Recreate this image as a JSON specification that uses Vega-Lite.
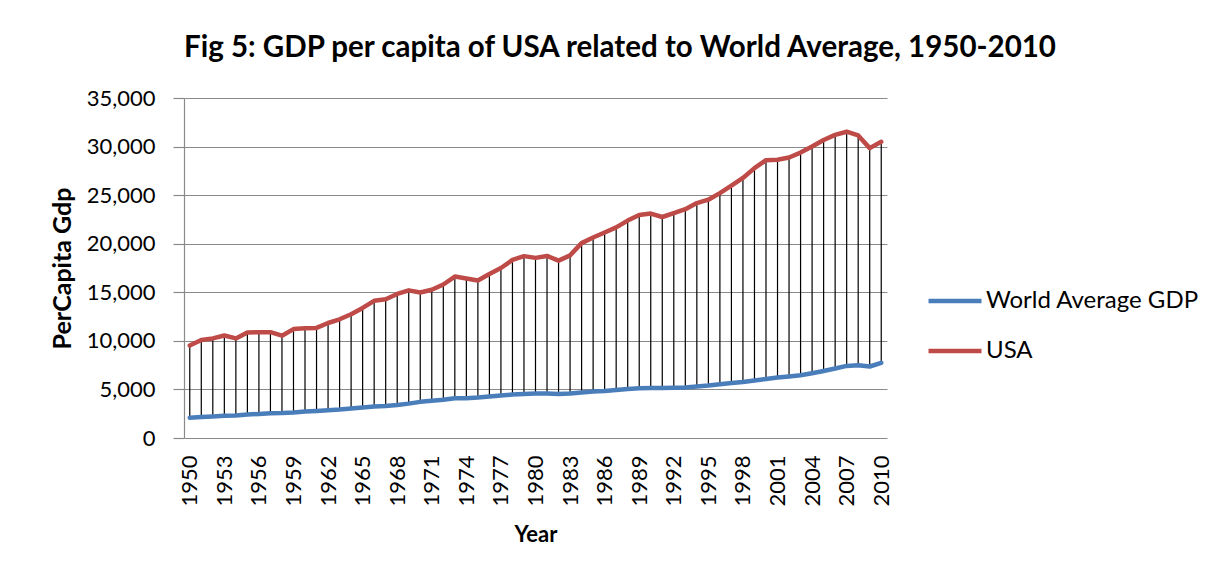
{
  "$schema": "https://vega.github.io/schema/vega-lite/v6.json",
  "width": 703,
  "height": 340,
  "autosize": {"type": "none"},
  "padding": {"left": 184, "top": 98, "right": 337, "bottom": 141},
  "background": "white",
  "title": {
    "text": "Fig 5: GDP per capita of USA related to World Average, 1950-2010",
    "anchor": "start",
    "frame": "group",
    "font": "Lato",
    "fontSize": 29.5,
    "fontWeight": "bold",
    "color": "#000000",
    "offset": 24
  },
  "data": {
    "values": [
      {"year": 1950, "world": 2080, "usa": 9530},
      {"year": 1951, "world": 2150, "usa": 10090},
      {"year": 1952, "world": 2210, "usa": 10250},
      {"year": 1953, "world": 2280, "usa": 10550},
      {"year": 1954, "world": 2320, "usa": 10250},
      {"year": 1955, "world": 2410, "usa": 10870},
      {"year": 1956, "world": 2480, "usa": 10880},
      {"year": 1957, "world": 2540, "usa": 10890},
      {"year": 1958, "world": 2570, "usa": 10530},
      {"year": 1959, "world": 2630, "usa": 11210},
      {"year": 1960, "world": 2730, "usa": 11290},
      {"year": 1961, "world": 2790, "usa": 11330},
      {"year": 1962, "world": 2860, "usa": 11840},
      {"year": 1963, "world": 2930, "usa": 12220},
      {"year": 1964, "world": 3040, "usa": 12740},
      {"year": 1965, "world": 3140, "usa": 13390},
      {"year": 1966, "world": 3240, "usa": 14120},
      {"year": 1967, "world": 3300, "usa": 14290},
      {"year": 1968, "world": 3400, "usa": 14830},
      {"year": 1969, "world": 3540, "usa": 15200},
      {"year": 1970, "world": 3720, "usa": 14980},
      {"year": 1971, "world": 3830, "usa": 15260},
      {"year": 1972, "world": 3940, "usa": 15800},
      {"year": 1973, "world": 4090, "usa": 16620},
      {"year": 1974, "world": 4100, "usa": 16420},
      {"year": 1975, "world": 4160, "usa": 16220},
      {"year": 1976, "world": 4260, "usa": 16880},
      {"year": 1977, "world": 4370, "usa": 17500},
      {"year": 1978, "world": 4470, "usa": 18330},
      {"year": 1979, "world": 4530, "usa": 18720},
      {"year": 1980, "world": 4570, "usa": 18540},
      {"year": 1981, "world": 4580, "usa": 18740},
      {"year": 1982, "world": 4540, "usa": 18260},
      {"year": 1983, "world": 4580, "usa": 18800},
      {"year": 1984, "world": 4680, "usa": 20060},
      {"year": 1985, "world": 4780, "usa": 20640},
      {"year": 1986, "world": 4850, "usa": 21160},
      {"year": 1987, "world": 4950, "usa": 21680},
      {"year": 1988, "world": 5050, "usa": 22380},
      {"year": 1989, "world": 5120, "usa": 22950},
      {"year": 1990, "world": 5150, "usa": 23100},
      {"year": 1991, "world": 5150, "usa": 22750},
      {"year": 1992, "world": 5160, "usa": 23150},
      {"year": 1993, "world": 5190, "usa": 23560},
      {"year": 1994, "world": 5300, "usa": 24180},
      {"year": 1995, "world": 5400, "usa": 24530},
      {"year": 1996, "world": 5530, "usa": 25210},
      {"year": 1997, "world": 5670, "usa": 25980},
      {"year": 1998, "world": 5770, "usa": 26770},
      {"year": 1999, "world": 5920, "usa": 27780},
      {"year": 2000, "world": 6080, "usa": 28600},
      {"year": 2001, "world": 6220, "usa": 28640},
      {"year": 2002, "world": 6330, "usa": 28880},
      {"year": 2003, "world": 6460, "usa": 29380},
      {"year": 2004, "world": 6670, "usa": 30000},
      {"year": 2005, "world": 6900, "usa": 30680},
      {"year": 2006, "world": 7150, "usa": 31200},
      {"year": 2007, "world": 7420, "usa": 31530},
      {"year": 2008, "world": 7500, "usa": 31150},
      {"year": 2009, "world": 7360, "usa": 29840},
      {"year": 2010, "world": 7740, "usa": 30490}
    ]
  },
  "encoding": {
    "x": {
      "field": "year",
      "type": "quantitative",
      "scale": {"domain": [1949.5, 2010.5], "nice": false, "zero": false},
      "axis": {
        "title": "Year",
        "values": [1950, 1953, 1956, 1959, 1962, 1965, 1968, 1971, 1974, 1977, 1980, 1983, 1986, 1989, 1992, 1995, 1998, 2001, 2004, 2007, 2010],
        "format": "d",
        "labelAngle": 270,
        "labelPadding": 17,
        "ticks": false,
        "grid": false,
        "domain": false,
        "labelFlush": false,
        "labelOverlap": false,
        "titlePadding": 18
      }
    }
  },
  "layer": [
    {
      "mark": {"type": "rule", "color": "#000000", "strokeWidth": 1.2},
      "encoding": {
        "y": {
          "field": "world",
          "type": "quantitative",
          "scale": {"domain": [0, 35000], "nice": false},
          "axis": {
            "title": "PerCapita Gdp",
            "titleFontSize": 25,
            "values": [0, 5000, 10000, 15000, 20000, 25000, 30000, 35000],
            "format": ",d",
            "grid": true,
            "gridColor": "#8a8a8a",
            "gridWidth": 1.2,
            "ticks": true,
            "tickSize": 11,
            "tickColor": "#8a8a8a",
            "tickWidth": 1.2,
            "domain": true,
            "domainColor": "#8a8a8a",
            "domainWidth": 1.2,
            "labelPadding": 18,
            "titlePadding": 11
          }
        },
        "y2": {"field": "usa"}
      }
    },
    {
      "transform": [
        {"fold": ["world", "usa"], "as": ["key", "gdp"]},
        {"lookup": "key", "from": {"data": {"values": [{"key": "world", "series": "World Average GDP"}, {"key": "usa", "series": "USA"}]}, "key": "key", "fields": ["series"]}}
      ],
      "mark": {"type": "line", "strokeWidth": 4.5, "strokeJoin": "round", "strokeCap": "round"},
      "encoding": {
        "y": {"field": "gdp", "type": "quantitative"},
        "color": {
          "field": "series",
          "type": "nominal",
          "scale": {"domain": ["World Average GDP", "USA"], "range": ["#4a7ebb", "#be4b48"]},
          "legend": {
            "title": null,
            "orient": "none",
            "legendX": 742,
            "legendY": 174,
            "symbolType": "stroke",
            "symbolSize": 2809,
            "symbolStrokeWidth": 4.5,
            "labelFont": "Lato",
            "labelFontSize": 24,
            "labelLimit": 400,
            "labelColor": "#000000",
            "labelOffset": 2,
            "rowPadding": 9,
            "padding": 0
          }
        }
      }
    }
  ],
  "config": {
    "view": {"stroke": null},
    "axis": {
      "labelFont": "Lato",
      "labelFontSize": 22,
      "labelColor": "#000000",
      "titleFont": "Lato",
      "titleFontSize": 22,
      "titleFontWeight": "bold",
      "titleColor": "#000000"
    }
  }
}
